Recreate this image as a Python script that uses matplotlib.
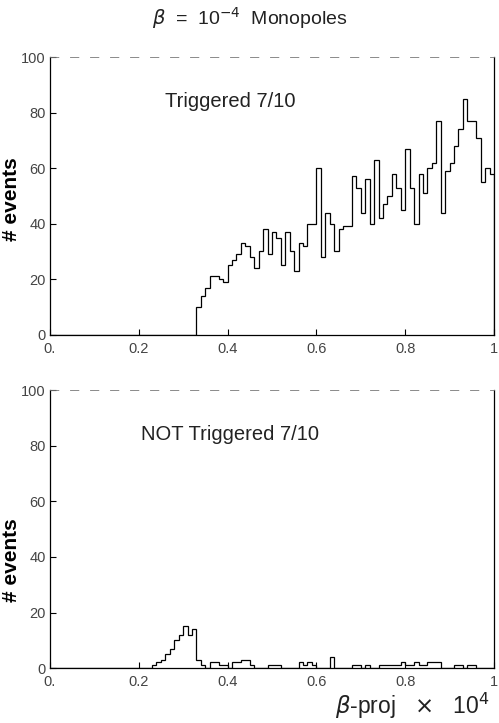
import numpy as np
import matplotlib.pyplot as plt

plt.rcParams.update({
    'font.family': ['Liberation Sans', 'DejaVu Sans'],
    'mathtext.fontset': 'dejavusans',
})

# bin width in beta-proj x 10^4
BIN_W = 0.01

# triggered 7/10, bins from 0.33 to 1.00
trig_start = 0.33
trig_counts = [10, 14, 17, 21, 21, 20, 19, 25, 27, 29,
               33, 32, 28, 24, 30, 38, 29, 37, 35, 25,
               37, 30, 23, 33, 32, 40, 40, 60, 28, 44,
               40, 30, 38, 39, 39, 57, 53, 44, 56, 40,
               63, 42, 47, 50, 58, 53, 45, 67, 53, 40,
               58, 51, 60, 62, 77, 44, 59, 62, 68, 74,
               85, 77, 77, 71, 55, 60, 58]

# not triggered 7/10, bins from 0.23 to 1.00
notrig_start = 0.23
notrig_counts = [1, 2, 3, 5, 7, 10, 12, 15, 12, 14,
                 3, 1, 0, 2, 2, 1, 1, 0, 2, 2,
                 3, 3, 1, 0, 0, 0, 1, 1, 1, 0,
                 0, 0, 0, 2, 1, 2, 1, 0, 0, 0,
                 4, 0, 0, 0, 0, 1, 1, 0, 1, 0,
                 0, 1, 1, 1, 1, 1, 2, 1, 1, 2,
                 1, 1, 2, 2, 2, 0, 0, 0, 1, 1,
                 0, 1, 1, 0, 0, 0, 0]

x_ticks = [0.0, 0.2, 0.4, 0.6, 0.8, 1.0]
x_ticklabels = ['0.', '0.2', '0.4', '0.6', '0.8', '1']
y_ticks = [0, 20, 40, 60, 80, 100]


def draw_panel(ax, start, counts, label, ylab_y):
    counts = np.array(counts, dtype=float)
    edges = start + BIN_W * np.arange(len(counts) + 1)
    # baseline before the first filled bin
    ax.plot([0, start], [0, 0], color='black', lw=0.9)
    ax.stairs(counts, edges, color='black', lw=0.9, baseline=0)
    ax.set_xlim(0, 1)
    ax.set_ylim(0, 100)
    ax.set_xticks(x_ticks)
    ax.set_xticklabels(x_ticklabels)
    ax.set_yticks(y_ticks)
    ax.tick_params(direction='in', length=4, width=0.8, labelsize=10.5,
                   colors='black', labelcolor='#444444')
    ax.tick_params(axis='y', pad=3)
    ax.tick_params(axis='x', pad=5)
    for s in ['left', 'bottom', 'right']:
        ax.spines[s].set_linewidth(0.9)
    ax.spines['top'].set_linestyle((0, (10, 14)))
    ax.spines['top'].set_linewidth(0.6)
    ax.spines['top'].set_color('#777777')
    ax.text(0.405, 0.84, label, transform=ax.transAxes, fontsize=14.5,
            ha='center', va='center', color='#222222')
    ax.set_ylabel('# events', fontsize=15, fontweight='bold')
    ax.yaxis.set_label_coords(-0.065, ylab_y)


fig = plt.figure(figsize=(4.99, 7.23), dpi=100)
ax1 = fig.add_axes([0.100, 0.537, 0.890, 0.384])
ax2 = fig.add_axes([0.100, 0.076, 0.890, 0.384])

draw_panel(ax1, trig_start, trig_counts, 'Triggered 7/10', 0.49)
draw_panel(ax2, notrig_start, notrig_counts, 'NOT Triggered 7/10', 0.39)

fig.text(0.50, 0.975, r'$\beta$  =  10$^{-4}$  Monopoles', fontsize=14,
         ha='center', va='center', color='#222222')
fig.text(0.982, 0.024, r'$\beta$-proj   $\times$   10$^{4}$', fontsize=16.5,
         ha='right', va='center', color='#222222')

fig.savefig('out.png', dpi=100, facecolor='white')
